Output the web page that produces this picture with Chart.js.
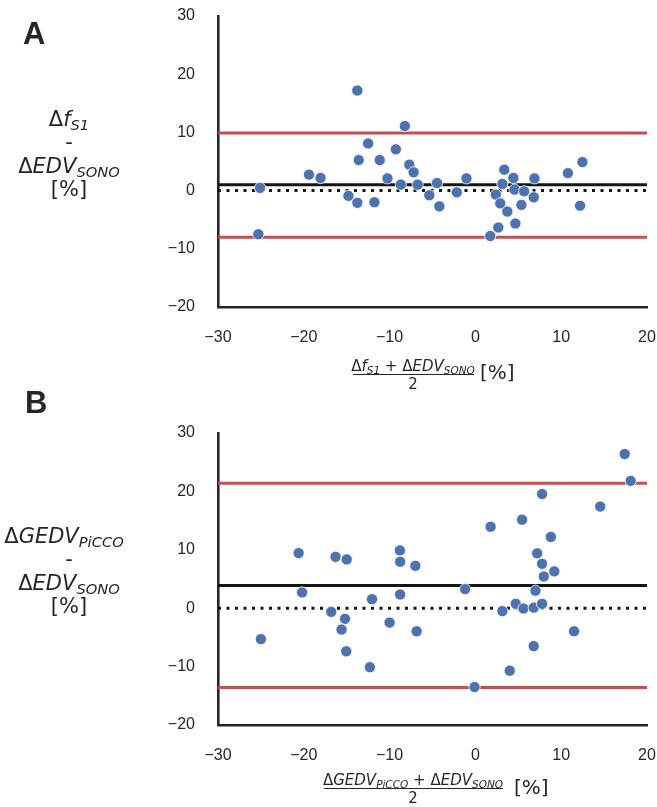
<!DOCTYPE html>
<html>
<head>
<meta charset="utf-8">
<script src="https://cdn.jsdelivr.net/npm/chart.js@4/dist/chart.umd.min.js"></script>
<style>
  html, body { margin: 0; padding: 0; background: #ffffff; }
  #wrap { position: relative; width: 657px; height: 807px; overflow: hidden; }
  canvas { position: absolute; left: 0; }
  .txt { position: absolute; color: #262626; white-space: nowrap; font-family: "DejaVu Sans", sans-serif; }
  .row { text-align: center; width: 160px; height: 24px; line-height: 24px; font-size: 21px; }
  .it { font-style: italic; }
  .sub { font-size: 70%; font-style: italic; position: relative; top: 0.25em; line-height: 0; }
  .panel { font-family: "Liberation Sans", Arial, sans-serif; font-weight: bold; font-size: 31px; }
  .num { font-size: 15px; text-align: center; }
  .bar { position: absolute; height: 1.3px; background: #262626; }
</style>
</head>
<body>
<div id="wrap">
  <canvas id="chartA" width="657" height="400" style="top:0"></canvas>
  <canvas id="chartB" width="657" height="407" style="top:400px"></canvas>

  <!-- panel letters -->
  <div class="txt panel" style="left:23px; top:16px;">A</div>
  <div class="txt panel" style="left:25px; top:385px;">B</div>

  <!-- y-axis label, panel A -->
  <div class="txt row" style="left:-11px; top:107px;">Δ<span class="it">f</span><span class="sub">S1</span></div>
  <div class="txt row" style="left:-11px; top:130px;">-</div>
  <div class="txt row" style="left:-11px; top:154px;">Δ<span class="it">EDV</span><span class="sub">SONO</span></div>
  <div class="txt row" style="left:-11px; top:177px;">[%]</div>

  <!-- y-axis label, panel B -->
  <div class="txt row" style="left:-16px; top:524px;">Δ<span class="it">GEDV</span><span class="sub">PiCCO</span></div>
  <div class="txt row" style="left:-11px; top:547px;">-</div>
  <div class="txt row" style="left:-11px; top:571px;">Δ<span class="it">EDV</span><span class="sub">SONO</span></div>
  <div class="txt row" style="left:-11px; top:594px;">[%]</div>

  <!-- x-axis label, panel A -->
  <div class="txt num" style="left:313px; width:200px; top:357px; line-height:18px;">Δ<span class="it">f</span><span class="sub">S1</span> + Δ<span class="it">EDV</span><span class="sub">SONO</span></div>
  <div class="bar" style="left:353px; width:121px; top:374px;"></div>
  <div class="txt num" style="left:313px; width:200px; top:375px; line-height:18px;">2</div>
  <div class="txt" style="left:480px; top:360px; font-size:20px; line-height:24px;">[%]</div>

  <!-- x-axis label, panel B -->
  <div class="txt num" style="left:313px; width:200px; top:771px; line-height:18px;">Δ<span class="it">GEDV</span><span class="sub">PiCCO</span> + Δ<span class="it">EDV</span><span class="sub">SONO</span></div>
  <div class="bar" style="left:324px; width:179px; top:788px;"></div>
  <div class="txt num" style="left:313px; width:200px; top:789px; line-height:18px;">2</div>
  <div class="txt" style="left:514px; top:775px; font-size:20px; line-height:24px;">[%]</div>
</div>

<script>
// Tick values shared by both panels
const xTicks = [-30, -20, -10, 0, 10, 20];
const yTicks = [-20, -10, 0, 10, 20, 30];

// Panel A: mean of the two methods vs. their difference (Δf_S1 vs ΔEDV_SONO)
const meanA = [-13.76, -8.22, -12.5, -9.27, -13.6, -11.15, -7.7, -7.2, -19.4, -18.05,
               -10.25, -8.69, -6.73, -25.1, -5.37, -14.8, -13.76, -11.77, -25.3, -4.47,
               -4.2, -2.17, -1.04, 3.37, 3.14, 4.43, 2.38, 2.9, 4.57, 5.68,
               6.88, 6.8, 5.36, 3.72, 4.66, 2.67, 1.73, 10.78, 12.47, 12.2];
const diffA = [17.2, 11.1, 8.1, 7.1, 5.25, 5.25, 4.45, 3.15, 2.74, 2.17,
               2.1, 1.03, 1.03, 0.46, -0.8, -0.9, -2.1, -2.0, -7.5, 1.3,
               -2.7, -0.3, 2.1, 3.6, 1.14, 2.17, -0.68, -2.2, 0.17, -0.12,
               2.1, -1.15, -2.45, -3.6, -5.65, -6.34, -7.8, 3.0, 4.9, -2.6];
// bias and limits of agreement, panel A
const biasA = 1.0;
const loaA = [-8.0, 9.9];

// Panel B: ΔGEDV_PiCCO vs ΔEDV_SONO
const meanB = [-20.6, -16.3, -15.0, -8.8, -8.77, -7.0, 17.4, 18.1, 7.77, 14.55,
               1.77, 5.44, 8.8, 7.2, 7.77, 9.2, 7.97, -1.2, 7.0, -20.2,
               -12.05, -8.77, -16.8, -15.2, -15.6, -15.05, -10.0, -6.85, -12.3, -25.0,
               -0.1, 3.14, 4.7, 5.6, 6.8, 7.77, 4.0, 6.8, 11.5];
const diffB = [9.43, 8.8, 8.35, 9.9, 7.95, 7.26, 26.4, 21.8, 19.55, 17.4,
               13.95, 15.15, 12.2, 9.4, 7.6, 6.3, 5.43, 3.26, 3.0, 2.7,
               1.54, 2.35, -0.63, -1.83, -3.66, -7.38, -2.46, -3.95, -10.1, -5.3,
               -13.5, -0.5, 0.75, -0.05, 0.1, 0.75, -10.7, -6.5, -3.95];
// bias and limits of agreement, panel B
const biasB = 3.9;
const loaB = [-13.6, 21.4];

const INK = '#262626';
const BLUE = '#4c72b0';
const RED = '#c44e52';

function hline(y) {
  return [{ x: xTicks[0], y: y }, { x: xTicks[xTicks.length - 1], y: y }];
}

// drop the automatic label overhang so the plot area is set by layout padding alone
function clearPadding(s) {
  s.paddingTop = 0; s.paddingBottom = 0; s.paddingLeft = 0; s.paddingRight = 0;
}

function makePanel(canvasId, xs, ys, bias, loa, topPad, xAxisHeight) {
  const points = xs.map((x, i) => ({ x: x, y: ys[i] }));
  const lineBase = { type: 'line', pointRadius: 0, borderWidth: 3, fill: false, tension: 0 };
  const tickFont = { family: '"Liberation Sans", Arial, sans-serif', size: 16 };
  return new Chart(document.getElementById(canvasId), {
    type: 'scatter',
    data: {
      datasets: [
        { data: points, backgroundColor: BLUE, borderColor: '#ffffff', borderWidth: 0.8, pointRadius: 5.6, pointHoverRadius: 5.6 },
        Object.assign({}, lineBase, { data: hline(bias), borderColor: '#151515' }),
        Object.assign({}, lineBase, { data: hline(0), borderColor: '#151515', borderDash: [3, 5.5] }),
        Object.assign({}, lineBase, { data: hline(loa[0]), borderColor: RED }),
        Object.assign({}, lineBase, { data: hline(loa[1]), borderColor: RED })
      ]
    },
    options: {
      responsive: false,
      animation: false,
      events: [],
      layout: { padding: { left: 0, right: 10, top: topPad, bottom: 0 } },
      plugins: { legend: { display: false }, tooltip: { enabled: false } },
      scales: {
        x: {
          type: 'linear',
          min: xTicks[0],
          max: xTicks[xTicks.length - 1],
          afterBuildTicks: s => { s.ticks = xTicks.map(v => ({ value: v })); },
          afterFit: s => { s.height = xAxisHeight; clearPadding(s); },
          grid: { display: false, drawTicks: false },
          border: { display: true, color: INK, width: 2.6 },
          ticks: {
            padding: 21,
            color: INK,
            font: tickFont,
            callback: v => String(v).replace('-', '\u2212')
          }
        },
        y: {
          type: 'linear',
          min: yTicks[0],
          max: yTicks[yTicks.length - 1],
          afterBuildTicks: s => { s.ticks = yTicks.map(v => ({ value: v })); },
          afterFit: s => { s.width = 218; clearPadding(s); },
          grid: { display: false, drawTicks: false },
          border: { display: true, color: INK, width: 2.6 },
          ticks: {
            padding: 23,
            color: INK,
            font: tickFont,
            callback: v => String(v).replace('-', '\u2212')
          }
        }
      }
    }
  });
}

makePanel('chartA', meanA, diffA, biasA, loaA, 16, 93);
makePanel('chartB', meanB, diffB, biasB, loaB, 33, 82);
</script>
</body>
</html>
